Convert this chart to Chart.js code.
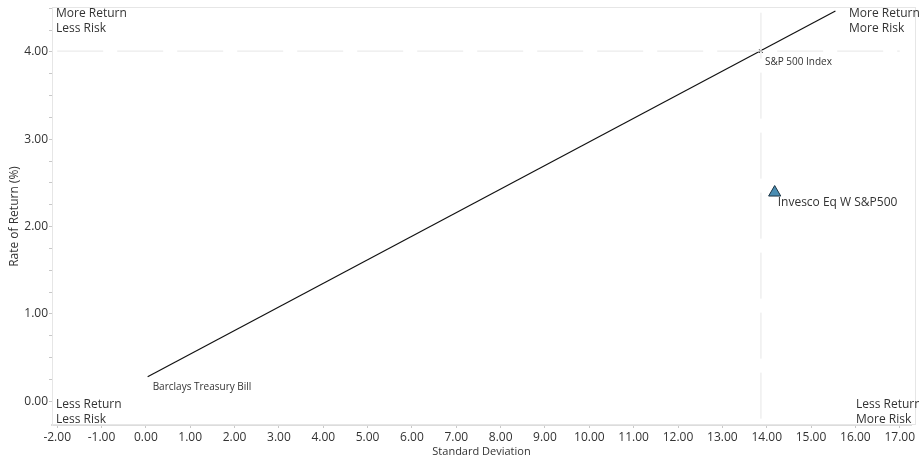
<!DOCTYPE html>
<html>
<head>
<meta charset="utf-8">
<script src="https://cdn.jsdelivr.net/npm/chart.js@4.4.0/dist/chart.umd.min.js"></script>
<style>
  html, body { margin: 0; padding: 0; background: #fff; }
  #wrap { width: 919px; height: 460px; }
</style>
</head>
<body>
<div id="wrap"><canvas id="riskReturn"></canvas></div>
<script>
// points: [Treasury bill, S&P 500, fund]
const pointNames = ["Barclays Treasury Bill", "S&P 500 Index", "Invesco Eq W S&P500"];
const pointRisk = [0.04, 13.87, 14.18];
const pointReturn = [0.28, 4.01, 2.39];

// capital market line, bill -> past the index
const lineRisk = [0.04, 15.55];
const lineReturn = [0.28, 4.47];

// quadrant divider extents
const dividerRisk = [-2, 17];
const dividerReturn = [-0.2, 4.45];

const xTicks = [-2, -1, 0, 1, 2, 3, 4, 5, 6, 7, 8, 9, 10, 11, 12, 13, 14, 15, 16, 17];
const yTicks = [0, 0.25, 0.5, 0.75, 1, 1.25, 1.5, 1.75, 2, 2.25, 2.5, 2.75, 3, 3.25, 3.5, 3.75, 4, 4.25, 4.5];

const cornerText = [
    ["More Return", "Less Risk"],
    ["More Return", "More Risk"],
    ["Less Return", "Less Risk"],
    ["Less Return", "More Risk"]
];

const FONT = "'Open Sans', 'Noto Sans', sans-serif";
const TEXT = "#333";
const DIV_COLOR = "#e6e6e6";

const pt = (i) => ({x: pointRisk[i], y: pointReturn[i]});

const overlay = {
    id: "overlay",
    beforeDatasetsDraw(chart) {
        const {ctx, chartArea: a} = chart;
        ctx.save();
        ctx.strokeStyle = "#e6e6e6";
        ctx.lineWidth = 1;
        ctx.strokeRect(a.left + 0.5, a.top - 0.5, a.right - a.left + 4, a.bottom - a.top);
        ctx.restore();
    },
    afterDatasetsDraw(chart) {
        const {ctx, chartArea: a, scales} = chart;
        ctx.save();
        ctx.fillStyle = TEXT;
        ctx.textBaseline = "top";
        ctx.textAlign = "left";
        ctx.font = "12px " + FONT;
        const spots = [
            [a.left + 4, a.top],
            [a.right - 62, a.top],
            [a.left + 4, a.bottom - 26],
            [a.right - 55, a.bottom - 26]
        ];
        cornerText.forEach((lines, i) => {
            lines.forEach((t, j) => ctx.fillText(t, spots[i][0], spots[i][1] + j * 14.5));
        });

        // point labels
        const offs = [[5, 10, 10], [4, 11, 10], [3, 10, 12]];
        ctx.textBaseline = "middle";
        pointNames.forEach((name, i) => {
            const px = scales.x.getPixelForValue(pointRisk[i]);
            const py = scales.y.getPixelForValue(pointReturn[i]);
            ctx.font = offs[i][2] + "px " + FONT;
            ctx.fillText(name, px + offs[i][0], py + offs[i][1]);
        });
        ctx.restore();
    }
};

new Chart(document.getElementById("riskReturn"), {
    type: "scatter",
    data: {
        datasets: [{
            label: "Horizontal divider",
            data: dividerRisk.map(x => ({x: x, y: pointReturn[1]})),
            showLine: true,
            borderColor: DIV_COLOR,
            borderWidth: 1,
            borderDash: [46, 14],
            pointRadius: 0
        }, {
            label: "Vertical divider",
            data: dividerReturn.map(y => ({x: pointRisk[1], y: y})),
            showLine: true,
            borderColor: DIV_COLOR,
            borderWidth: 1,
            borderDash: [46, 14],
            pointRadius: 0
        }, {
            label: "Capital market line",
            data: lineRisk.map((x, i) => ({x: x, y: lineReturn[i]})),
            showLine: true,
            borderColor: "#111",
            borderWidth: 1.2,
            pointRadius: 0
        }, {
            label: pointNames[1],
            data: [pt(1)],
            pointStyle: "crossRot",
            pointRadius: 2.5,
            borderColor: "#222",
            borderWidth: 1
        }, {
            label: pointNames[2],
            data: [pt(2)],
            pointStyle: "triangle",
            pointRadius: 7,
            backgroundColor: "#4a8db2",
            borderColor: "#1b3444",
            borderWidth: 1
        }]
    },
    options: {
        responsive: true,
        maintainAspectRatio: false,
        animation: false,
        layout: {padding: {top: 4, right: 2, left: 0, bottom: 0}},
        plugins: {
            legend: {display: false},
            tooltip: {enabled: false}
        },
        scales: {
            x: {
                type: "linear",
                min: -2.117,
                max: 17.254,
                afterBuildTicks: s => { s.ticks = xTicks.map(v => ({value: v})); },
                afterFit: s => { s.height = 35; s.paddingLeft = 0; s.paddingRight = 0; },
                border: {display: true, color: "#dcdcdc", width: 2},
                grid: {drawOnChartArea: false, tickLength: 3, color: "#c8c8c8"},
                ticks: {
                    padding: 2,
                    color: TEXT,
                    font: {family: FONT, size: 12},
                    maxRotation: 0,
                    autoSkip: false,
                    callback: v => v.toFixed(2)
                },
                title: {
                    display: true,
                    text: "Standard Deviation",
                    color: TEXT,
                    font: {family: FONT, size: 11},
                    padding: {top: 0, bottom: 2}
                }
            },
            y: {
                type: "linear",
                min: -0.273,
                max: 4.504,
                afterBuildTicks: s => { s.ticks = yTicks.map(v => ({value: v})); },
                afterFit: s => { s.width = 52; s.paddingTop = 0; s.paddingBottom = 0; },
                border: {display: true, color: "#e6e6e6", width: 1},
                grid: {drawOnChartArea: false, tickLength: 3, color: "#c8c8c8"},
                ticks: {
                    padding: 1,
                    color: TEXT,
                    font: {family: FONT, size: 12},
                    autoSkip: false,
                    callback: v => Number.isInteger(v) ? v.toFixed(2) : ""
                },
                title: {
                    display: true,
                    text: "Rate of Return (%)",
                    color: TEXT,
                    font: {family: FONT, size: 12},
                    padding: {top: 7, bottom: 0}
                }
            }
        }
    },
    plugins: [overlay]
});
</script>
</body>
</html>
